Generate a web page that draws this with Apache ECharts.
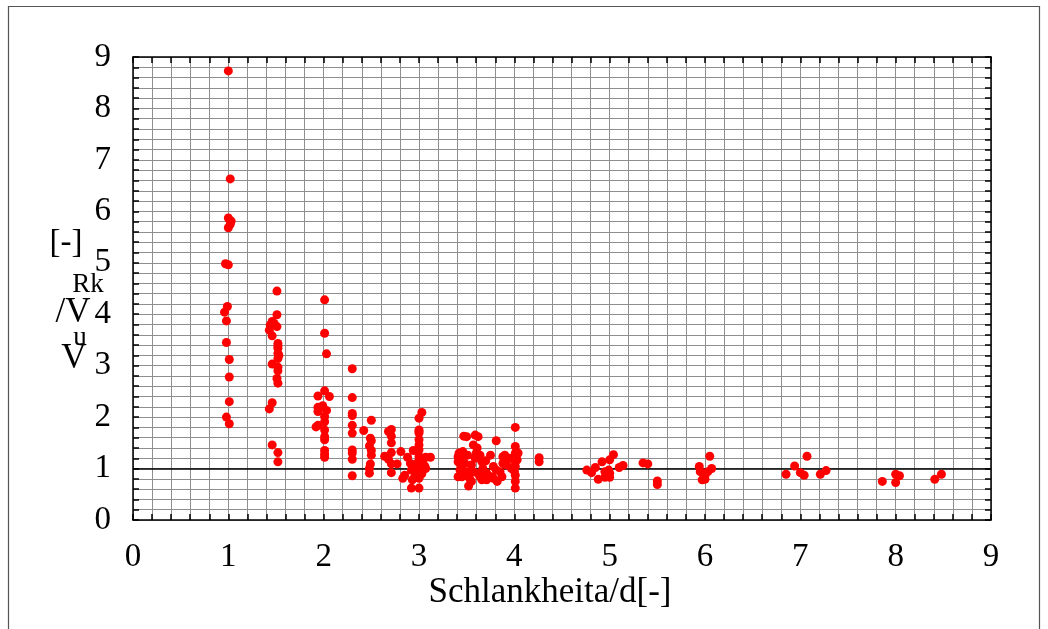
<!DOCTYPE html>
<html>
<head>
<meta charset="utf-8">
<script src="https://cdn.jsdelivr.net/npm/echarts@6/dist/echarts.min.js"></script>
<style>
  html, body { margin: 0; padding: 0; background: #fff; }
  #chart { width: 1048px; height: 629px; }
</style>
</head>
<body>
<div id="chart"></div>
<script>
// Axis ticks
const xTicks = ['0', '1', '2', '3', '4', '5', '6', '7', '8', '9'];
const yTicks = ['0', '1', '2', '3', '4', '5', '6', '7', '8', '9'];

// Test results V_u / V_Rk against slenderness a/d, grouped by slenderness
const slend10 = [[1.00,8.73],[1.02,6.63],[1.00,5.87],[1.03,5.81],[1.02,5.75],[1.00,5.68],[0.97,4.98],[1.00,4.96],[0.99,4.15],[0.96,4.04],[0.98,3.87],[0.98,3.45],[1.01,3.12],[1.01,2.78],[1.01,2.30],[0.98,2.00],[1.01,1.87]];
const slend15 = [[1.51,4.45],[1.51,3.99],[1.46,3.86],[1.44,3.79],[1.48,3.82],[1.51,3.76],[1.43,3.69],[1.46,3.58],[1.52,3.43],[1.52,3.38],[1.52,3.34],[1.52,3.24],[1.53,3.20],[1.52,3.14],[1.46,3.03],[1.52,2.97],[1.52,2.90],[1.51,2.75],[1.52,2.66],[1.46,2.28],[1.43,2.16],[1.46,1.46],[1.52,1.31],[1.52,1.13]];
const slend20 = [[2.01,4.28],[2.01,3.63],[2.03,3.23],[2.01,2.51],[1.94,2.41],[2.06,2.40],[1.94,2.19],[1.99,2.22],[2.03,2.13],[1.94,2.11],[2.01,2.01],[1.94,1.84],[1.92,1.81],[2.01,1.91],[2.01,1.75],[2.01,1.62],[2.01,1.56],[2.01,1.35],[2.01,1.28],[2.01,1.22]];
const slend23 = [[2.30,2.94],[2.30,2.38],[2.30,2.07],[2.30,2.03],[2.30,1.84],[2.30,1.69],[2.30,1.36],[2.30,1.30],[2.30,1.18],[2.30,0.86]];
const slend25 = [[2.50,1.94],[2.42,1.74],[2.49,1.59],[2.50,1.54],[2.48,1.44],[2.50,1.35],[2.50,1.26],[2.49,1.09],[2.48,1.00],[2.48,0.91]];
const slend27 = [[2.71,1.76],[2.68,1.72],[2.71,1.63],[2.71,1.50],[2.71,1.31],[2.64,1.24],[2.68,1.18],[2.71,1.09],[2.71,0.92],[2.77,1.09],[2.81,1.33]];
const slend30 = [[2.88,1.22],[2.91,1.10],[2.94,1.35],[2.85,0.87],[2.83,0.81],[2.92,0.62],[3.00,0.62],[3.03,2.09],[3.00,1.98],[3.00,1.75],[3.00,1.69],[3.00,1.56],[3.00,1.46],[3.00,1.36],[3.00,1.24],[3.00,1.17],[3.00,0.97],[3.00,0.81],[2.96,0.87],[3.04,1.17],[3.07,1.00],[3.12,1.22],[3.07,1.22],[2.98,1.10],[2.92,0.97],[3.00,1.72],[2.93,0.78],[3.03,0.90],[3.06,1.05],[2.96,1.05]];
const slend35 = [[3.47,1.63],[3.50,1.62],[3.59,1.65],[3.62,1.62],[3.57,1.46],[3.42,1.30],[3.46,1.33],[3.51,1.26],[3.60,1.30],[3.64,1.26],[3.41,1.13],[3.48,1.10],[3.55,1.07],[3.66,1.13],[3.43,0.97],[3.50,0.94],[3.57,0.94],[3.67,1.00],[3.45,0.84],[3.53,0.81],[3.64,0.84],[3.52,0.66],[3.55,0.75],[3.71,0.78],[3.75,1.26],[3.81,1.54],[3.78,1.04],[3.81,0.97],[3.76,0.84],[3.85,0.94],[3.90,1.26],[3.88,1.10],[3.92,1.07],[3.87,0.84],[3.82,0.75],[3.41,1.23],[3.41,0.84],[3.66,0.78],[3.71,0.91],[3.78,0.81],[3.88,1.23],[3.44,1.05],[3.61,1.40],[3.59,1.20],[3.70,1.15],[3.62,0.90],[3.46,1.18]];
const slend40 = [[4.01,1.80],[4.01,1.43],[4.01,1.30],[4.03,1.17],[4.01,1.04],[4.01,0.87],[4.01,0.75],[4.01,0.62],[3.97,1.00],[4.04,1.30],[4.01,1.13],[3.95,1.20],[4.00,0.95],[4.26,1.21],[4.26,1.13]];
const slend50 = [[4.76,0.97],[4.81,0.92],[4.85,1.02],[4.88,0.79],[4.92,1.13],[4.95,0.94],[4.95,0.83],[5.00,0.91],[5.00,1.17],[5.04,1.27],[5.00,0.83],[4.99,0.97],[5.10,1.02],[5.14,1.06],[5.35,1.11],[5.40,1.09],[5.50,0.76],[5.50,0.69]];
const slend60 = [[5.94,1.04],[5.95,0.94],[5.97,0.78],[6.00,0.87],[6.03,0.94],[6.07,1.00],[6.05,1.24],[6.00,0.79]];
const slend70 = [[6.85,0.89],[6.94,1.05],[7.00,0.92],[7.04,0.87],[7.07,1.24],[7.21,0.89],[7.27,0.96]];
const slend80 = [[7.86,0.75],[8.00,0.89],[8.04,0.86],[8.00,0.73],[8.41,0.79],[8.48,0.89]];

const allPoints = [].concat(slend10, slend15, slend20, slend23, slend25, slend27, slend30,
  slend35, slend40, slend50, slend60, slend70, slend80);

const SERIF = '"Liberation Serif", "DejaVu Serif", serif';
const GRID_COLOR = '#8e8e8e';

const chart = echarts.init(document.getElementById('chart'), null, { renderer: 'canvas' });

function axisBase(pos, showLabels, labels) {
  return {
    type: 'value', min: 0, max: 9, interval: 1, position: pos,
    axisLine: { show: true, onZero: false, lineStyle: { color: '#000', width: 1.5 } },
    axisTick: { show: true, inside: true, length: 6, lineStyle: { color: '#000', width: 1.5 } },
    minorTick: { show: true, splitNumber: 5, length: 6, lineStyle: { color: '#000', width: 1.5 } },
    axisLabel: {
      show: showLabels, color: '#000', fontFamily: SERIF, fontSize: 33,
      formatter: v => labels[Math.round(v)]
    },
    splitLine: { show: showLabels, lineStyle: { color: GRID_COLOR, width: 1 } },
    minorSplitLine: { show: showLabels, lineStyle: { color: GRID_COLOR, width: 1 } }
  };
}

const xBottom = axisBase('bottom', true, xTicks);
xBottom.axisLabel.margin = 21;
const xTop = axisBase('top', false, xTicks);
const yLeft = axisBase('left', true, yTicks);
yLeft.axisLabel.margin = 22;
const yRight = axisBase('right', false, yTicks);

// minor ticks point inward as well
[xBottom, xTop, yLeft, yRight].forEach(a => { a.minorTick.inside = true; });

chart.setOption({
  backgroundColor: '#fff',
  animation: false,
  grid: { left: 133, top: 57, width: 858, height: 463, containLabel: false },
  xAxis: [xBottom, xTop],
  yAxis: [yLeft, yRight],
  graphic: [
    { type: 'rect', shape: { x: 8.5, y: 6.5, width: 1031, height: 640 },
      style: { fill: 'none', stroke: '#555', lineWidth: 1.2 }, silent: true, z: -1 },
    { type: 'text', x: 550, y: 593, style: { text: 'Schlankheita/d[-]', font: '35px ' + SERIF, fill: '#000', textAlign: 'center', textVerticalAlign: 'middle' } },
    { type: 'text', x: 66, y: 243, style: { text: '[-]', font: '33px ' + SERIF, fill: '#000', textAlign: 'center', textVerticalAlign: 'middle' } },
    { type: 'text', x: 88, y: 285, style: { text: 'Rk', font: '27px ' + SERIF, fill: '#000', textAlign: 'center', textVerticalAlign: 'middle' } },
    { type: 'text', x: 73, y: 313, style: { text: '/V', font: '35px ' + SERIF, fill: '#000', textAlign: 'center', textVerticalAlign: 'middle' } },
    { type: 'text', x: 80, y: 338, style: { text: 'u', font: '27px ' + SERIF, fill: '#000', textAlign: 'center', textVerticalAlign: 'middle' } },
    { type: 'text', x: 74, y: 359, style: { text: 'V', font: '35px ' + SERIF, fill: '#000', textAlign: 'center', textVerticalAlign: 'middle' } }
  ],
  series: [{
    type: 'scatter',
    xAxisIndex: 0, yAxisIndex: 0,
    data: allPoints,
    symbol: 'circle',
    symbolSize: 9,
    itemStyle: { color: '#ff0000', opacity: 1 },
    z: 5,
    markLine: {
      silent: true, symbol: ['none', 'none'], label: { show: false },
      lineStyle: { color: '#000', width: 1.5, type: 'solid' },
      data: [{ yAxis: 1 }],
      z: 3
    }
  }]
});
</script>
</body>
</html>
